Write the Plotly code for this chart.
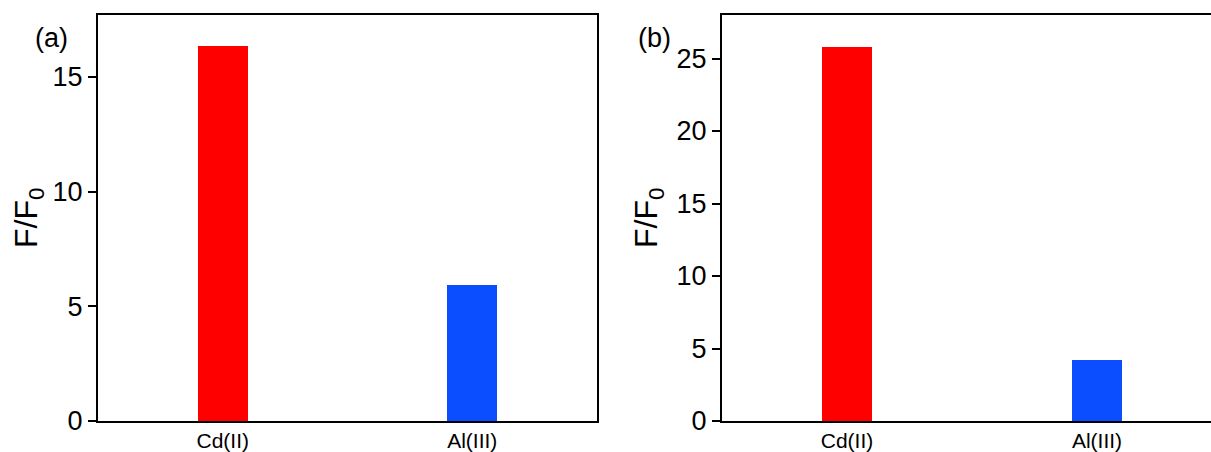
import plotly.graph_objects as go
from plotly.subplots import make_subplots

# Fluorescence enhancement ratios (F/F0) for the two metal ions
ions = ["Cd(II)", "Al(III)"]
ratio_a = [16.35, 5.93]
ratio_b = [25.8, 4.2]
bar_colors = ["#FF0000", "#0A4EFF"]
panel_labels = ["(a)", "(b)"]
yticks_a = [0, 5, 10, 15]
yticks_b = [0, 5, 10, 15, 20, 25]

W, H = 1211, 452
FONT = "Liberation Sans, Arial, sans-serif"

fig = make_subplots(rows=1, cols=2)

fig.add_trace(go.Bar(x=ions, y=ratio_a, marker=dict(color=bar_colors, line=dict(width=0)),
                     width=0.2, showlegend=False), row=1, col=1)
fig.add_trace(go.Bar(x=ions, y=ratio_b, marker=dict(color=bar_colors, line=dict(width=0)),
                     width=0.2, showlegend=False), row=1, col=2)

line_style = dict(showgrid=False, zeroline=False, linecolor="black", linewidth=2)
xfont = dict(family=FONT, size=21, color="black")
yfont = dict(family=FONT, size=27, color="black")

fig.update_xaxes(domain=[98 / W, 597 / W], range=[-0.5, 1.5], mirror=True, ticks="",
                 tickfont=xfont, row=1, col=1, **line_style)
fig.update_xaxes(domain=[722 / W, 1.0], range=[-0.5, 1.456], mirror=True, ticks="",
                 tickfont=xfont, row=1, col=2, **line_style)

fig.update_yaxes(range=[0, 17.7], tickvals=yticks_a, ticks="outside", ticklen=8, tickwidth=2,
                 tickcolor="black", mirror=True, tickfont=yfont, row=1, col=1, **line_style)
fig.update_yaxes(range=[0, 28], tickvals=yticks_b, ticks="outside", ticklen=8, tickwidth=2,
                 tickcolor="black", mirror=False, tickfont=yfont, row=1, col=2, **line_style)

# y-axis titles
for xpix in (28, 648):
    fig.add_annotation(x=xpix / W, y=0.5, xref="paper", yref="paper", text="F/F<sub>0</sub>",
                       textangle=-90, showarrow=False,
                       font=dict(family=FONT, size=32, color="black"),
                       xanchor="center", yanchor="middle")

# panel letters
for xpix, label in zip((51, 654), panel_labels):
    fig.add_annotation(x=xpix / W, y=1 - 26 / H, xref="paper", yref="paper", text=label,
                       showarrow=False, font=dict(family=FONT, size=27, color="black"),
                       xanchor="center", yanchor="middle")

fig.update_layout(width=W, height=H, margin=dict(l=0, r=0, t=15, b=31),
                  plot_bgcolor="white", paper_bgcolor="white", bargap=0)

fig.write_html("out.html")
